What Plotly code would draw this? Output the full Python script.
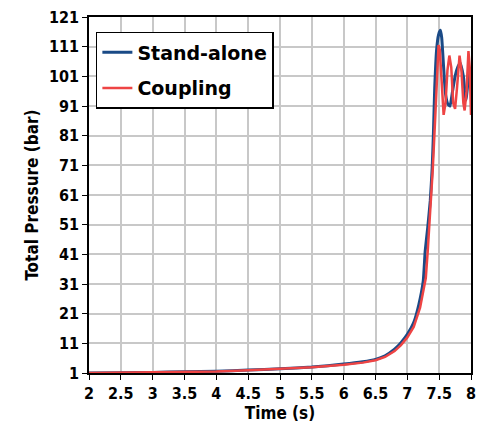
import plotly.graph_objects as go

# Stand-alone series
t_stand = [2.0, 2.5, 3.0, 3.5, 4.0, 4.5, 5.0, 5.5, 6.0, 6.3, 6.5, 6.65, 6.8, 6.9, 7.0, 7.1,
           7.18, 7.25, 7.28, 7.32, 7.36, 7.39, 7.41, 7.43, 7.46, 7.49, 7.52, 7.54, 7.57, 7.6,
           7.64, 7.67, 7.71, 7.75, 7.8, 7.83, 7.88, 7.92, 7.97, 8.0]
p_stand = [1.0, 1.1, 1.2, 1.4, 1.6, 2.0, 2.4, 3.0, 4.0, 4.8, 5.6, 6.8, 9.0, 11.2, 14.0, 18.0,
           24.0, 32.0, 42.0, 50.0, 59.0, 70.0, 82.0, 97.0, 110.0, 115.0, 116.5, 114.0, 104.0, 95.0,
           91.5, 91.0, 96.0, 101.0, 104.5, 105.5, 101.0, 93.0, 102.0, 97.0]

# Coupling series
t_coup = [2.0, 2.5, 3.0, 3.5, 4.0, 4.5, 5.0, 5.5, 6.0, 6.3, 6.5, 6.65, 6.8, 6.9, 7.0, 7.1,
          7.2, 7.26, 7.29, 7.32, 7.36, 7.4, 7.44, 7.47, 7.49, 7.51, 7.54, 7.57, 7.6, 7.63,
          7.66, 7.69, 7.72, 7.75, 7.78, 7.82, 7.85, 7.88, 7.9, 7.93, 7.96, 7.98, 8.0]
p_coup = [1.0, 1.1, 1.2, 1.3, 1.5, 1.9, 2.3, 2.9, 3.8, 4.5, 5.3, 6.4, 8.4, 10.4, 13.0, 16.5,
          23.0, 29.0, 33.0, 42.0, 55.0, 70.0, 88.0, 103.0, 111.5, 110.0, 97.0, 88.0, 92.0, 103.0,
          108.0, 104.0, 92.0, 90.0, 97.0, 108.0, 103.0, 92.0, 89.5, 96.0, 109.5, 104.0, 88.0]

x_ticks = [2, 2.5, 3, 3.5, 4, 4.5, 5, 5.5, 6, 6.5, 7, 7.5, 8]
y_ticks = [1, 11, 21, 31, 41, 51, 61, 71, 81, 91, 101, 111, 121]

FONT = "DejaVu Sans Condensed, DejaVu Sans"
LEGFONT = "DejaVu Sans"

fig = go.Figure()
fig.add_trace(go.Scatter(x=t_stand, y=p_stand, mode="lines", name="Stand-alone",
                         legendgroup="a", line=dict(color="#1a4a86", width=3, shape="spline", smoothing=0.4)))
fig.add_trace(go.Scatter(x=t_coup, y=p_coup, mode="lines", name="Coupling",
                         legendgroup="b", line=dict(color="#ee4444", width=2.5)))

axis_common = dict(showline=True, linecolor="black", linewidth=1.5, mirror=True,
                   ticks="outside", ticklen=5, tickcolor="black", automargin=False,
                   showgrid=True, gridcolor="#c8c8c8", gridwidth=1.5, zeroline=False,
                   tickfont=dict(family=FONT, size=16, color="black", weight="bold"))

fig.update_xaxes(range=[2, 8], tickvals=x_ticks, ticktext=[str(v) for v in x_ticks],
                 title=dict(text="Time (s)", font=dict(family=FONT, size=17, color="black", weight="bold"),
                            standoff=2),
                 **axis_common)
fig.update_yaxes(range=[1, 121], tickvals=y_ticks, ticktext=[str(v) for v in y_ticks],
                 title=dict(text="Total Pressure (bar)", font=dict(family=FONT, size=17, color="black", weight="bold"),
                            standoff=6),
                 **axis_common)

fig.update_layout(
    width=483, height=425,
    margin=dict(l=89, r=12, t=17, b=52),
    plot_bgcolor="white", paper_bgcolor="white",
    legend=dict(x=0.018, y=0.958, xanchor="left", yanchor="top",
                bgcolor="white", bordercolor="black", borderwidth=1.5,
                font=dict(family=LEGFONT, size=19, color="black", weight="bold"),
                traceorder="grouped", itemwidth=30, tracegroupgap=8),
)

fig.write_html("out.html")
